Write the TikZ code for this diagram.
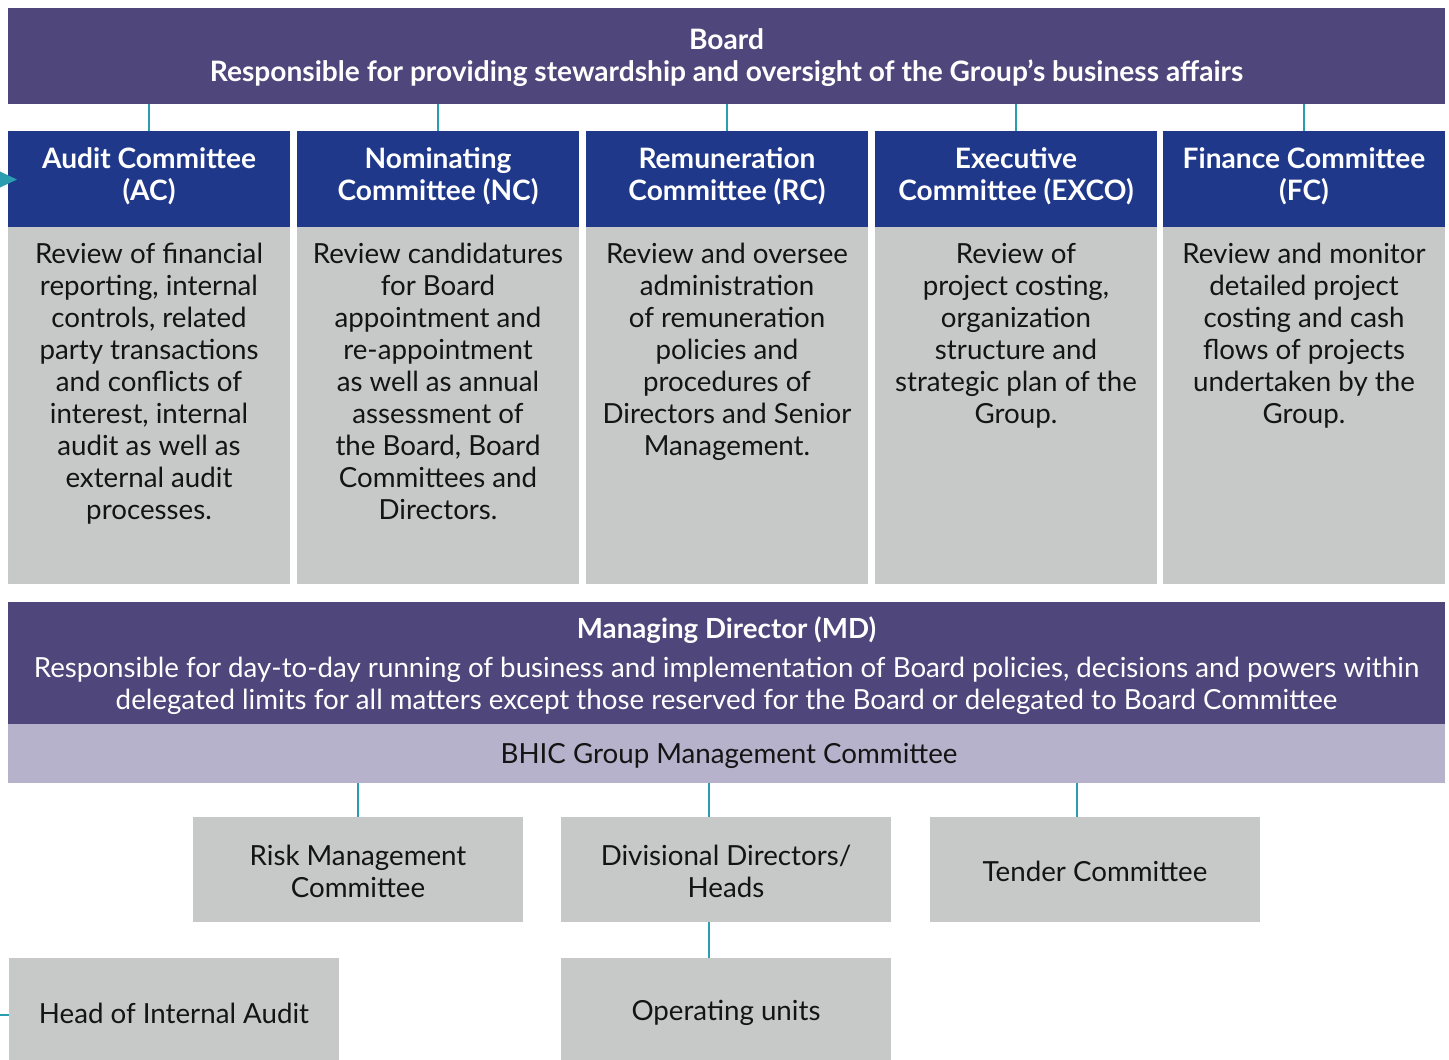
\documentclass[tikz,border=0pt]{standalone}
\usepackage{fontspec}
\setmainfont{Lato}
\begin{document}
\begin{tikzpicture}[x=0.025cm,y=-0.025cm,
  headbox/.style={fill=navy,inner sep=0pt,minimum width=7.05cm,minimum height=2.4cm},
  headtext/.style={text=white,inner sep=0pt,align=center,
    font=\bfseries\fontsize{20}{22.8}\selectfont},
  bodybox/.style={fill=panelgray,inner sep=0pt,minimum width=7.05cm,minimum height=8.925cm},
  bodytext/.style={anchor=north,inner sep=0pt,align=center,text=black!92,
    font=\fontsize{19.7}{22.8}\selectfont},
  unitbox/.style={fill=panelgray,inner sep=0pt,minimum width=8.25cm},
  unittext/.style={inner sep=0pt,align=center,text=black!92,
    font=\fontsize{19.7}{22.8}\selectfont},
  conn/.style={draw=teal,line width=1.8pt}]
\definecolor{boardpurple}{HTML}{4F477C}
\definecolor{navy}{HTML}{1F388A}
\definecolor{panelgray}{HTML}{C6C9C8}
\definecolor{lilac}{HTML}{B6B2CB}
\definecolor{teal}{HTML}{2B9DB1}
\useasboundingbox (0,0) rectangle (1449,1060);

% Board
\node[fill=boardpurple,inner sep=0pt,minimum width=35.925cm,minimum height=2.4cm] (board) at (726.5,56) {};
\node[text=white,inner sep=0pt,align=center,font=\bfseries\fontsize{20}{22.8}\selectfont]
  (boardt) at (726.5,58)
  {Board\\Responsible for providing stewardship and oversight of the Group’s business affairs};

% Committees: headers and panels
\node[headbox] (ac) at (149,179) {};
\node[headbox] (nc) at (438,179) {};
\node[headbox] (rc) at (727,179) {};
\node[headbox] (exco) at (1016,179) {};
\node[headbox] (fc) at (1304,179) {};
\foreach \c/\t in {ac/{Audit Committee\\(AC)},nc/{Nominating\\Committee (NC)},
    rc/{Remuneration\\Committee (RC)},exco/{Executive\\Committee (EXCO)},
    fc/{Finance Committee\\(FC)}}
  \node[headtext] (\c t) at ([yshift=0.07cm]\c.center) {\t};

\node[bodybox] (acb) at (149,405.5) {};
\node[bodybox] (ncb) at (438,405.5) {};
\node[bodybox] (rcb) at (727,405.5) {};
\node[bodybox] (excob) at (1016,405.5) {};
\node[bodybox] (fcb) at (1304,405.5) {};

\node[bodytext] (act) at ([yshift=-0.4cm]acb.north) {Review of financial\\reporting, internal\\controls, related\\party transactions\\and conflicts of\\interest, internal\\audit as well as\\external audit\\processes.};
\node[bodytext] (nct) at ([yshift=-0.4cm]ncb.north) {Review candidatures\\for Board\\appointment and\\re-appointment\\as well as annual\\assessment of\\the Board, Board\\Committees and\\Directors.};
\node[bodytext] (rct) at ([yshift=-0.4cm]rcb.north) {Review and oversee\\administration\\of remuneration\\policies and\\procedures of\\Directors and Senior\\Management.};
\node[bodytext] (excot) at ([yshift=-0.4cm]excob.north) {Review of\\project costing,\\organization\\structure and\\strategic plan of the\\Group.};
\node[bodytext] (fct) at ([yshift=-0.4cm]fcb.north) {Review and monitor\\detailed project\\costing and cash\\flows of projects\\undertaken by the\\Group.};

\foreach \c in {ac,nc,rc,exco,fc}
  \draw[conn] (\c.north) -- (\c.north |- board.south);

% Managing Director and management committee
\node[fill=boardpurple,inner sep=0pt,minimum width=35.925cm,minimum height=3.05cm] (md) at (726.5,663) {};
\node[text=white,inner sep=0pt,align=center,font=\fontsize{19.7}{22.8}\selectfont]
  (mdt) at (726.5,666)
  {\textbf{Managing Director (MD)}\\[5pt]Responsible for day-to-day running of business and implementation of Board policies, decisions and powers within\\delegated limits for all matters except those reserved for the Board or delegated to Board Committee};
\node[fill=lilac,inner sep=0pt,minimum width=35.925cm,minimum height=1.475cm] (bhic) at (726.5,753.5) {};
\node[unittext] (bhict) at (729,756) {BHIC Group Management Committee};

% Second tier
\node[unitbox,minimum height=2.625cm] (risk) at (358,869.5) {};
\node[unitbox,minimum height=2.625cm] (div) at (726,869.5) {};
\node[unitbox,minimum height=2.625cm] (tender) at (1095,869.5) {};
\node[unittext] (riskt) at (358,871) {Risk Management\\Committee};
\node[unittext] (divt) at (726,871) {Divisional Directors/\\Heads};
\node[unittext] (tendert) at (1095,871) {Tender Committee};

\draw[conn] (risk.north) -- (risk.north |- bhic.south);
\draw[conn] ([xshift=-0.425cm]div.north) -- ([xshift=-0.425cm]div.north |- bhic.south);
\draw[conn] ([xshift=-0.45cm]tender.north) -- ([xshift=-0.45cm]tender.north |- bhic.south);

% Bottom tier
\node[unitbox,minimum height=2.775cm] (hia) at (174,1013.5) {};
\node[unitbox,minimum height=2.775cm] (ops) at (726,1013.5) {};
\node[unittext] (hiat) at (174,1013) {Head of Internal Audit};
\node[unittext] (opst) at (726,1013) {Operating units};

\draw[conn] ([xshift=-0.425cm]div.south) -- ([xshift=-0.425cm]div.south |- ops.north);

% Incoming reporting lines at the left edge
\coordinate (hiain) at (0,1015);
\draw[conn] (hiain) -- (hiain -| hia.west);
\coordinate (acin) at (0,179.5);
\fill[teal] (acin) ++(0,-8) -- ++(17,8) -- ++(-17,8) -- cycle;
\end{tikzpicture}
\end{document}
